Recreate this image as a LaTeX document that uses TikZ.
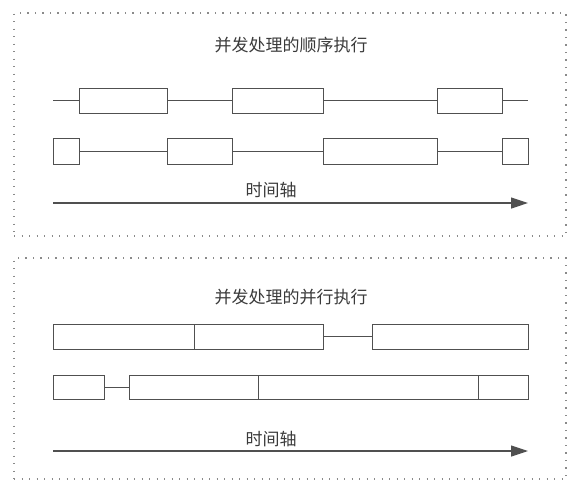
\documentclass[tikz,border=0pt]{standalone}
\usepackage{fontspec}
\newfontfamily\cjk{Noto Sans CJK SC}
\usetikzlibrary{arrows.meta}
\definecolor{linec}{HTML}{505050}
\definecolor{framec}{HTML}{8A8A8A}
\definecolor{textc}{HTML}{3A3A3A}
\tikzset{
  box/.style={draw=linec, line width=0.9pt, fill=white, inner sep=0pt, outer sep=0pt, minimum height=#1},
  conn/.style={draw=linec, line width=0.9pt},
  frame/.style={draw=framec, line width=1.1pt, dash pattern=on 1.2pt off 6.3pt},
  title/.style={font=\cjk\fontsize{17}{17}\selectfont, text=textc, inner sep=0pt},
  axis/.style={draw=linec, line width=1.2pt, -{Triangle[length=17pt,width=11pt]}}
}
\begin{document}
\begin{tikzpicture}[x=1pt,y=-1pt]
\useasboundingbox (0,0) rectangle (585,491);
% frames
\node[frame, inner sep=0pt, minimum width=552pt, minimum height=223pt] (f1) at (290,124.5) {};
\node[frame, inner sep=0pt, minimum width=552pt, minimum height=221pt] (f2) at (290,368.5) {};
% titles
\node[title] (t1) at (291,45) {并发处理的顺序执行};
\node[title] (t2) at (291,297) {并发处理的并行执行};
% top frame row 1
\coordinate (r1s) at (53,100.5);
\coordinate (r1e) at (528,100.5);
\node[box=25pt, minimum width=88pt] (b11) at (123,100.5) {};
\node[box=25pt, minimum width=91pt] (b12) at (277.5,100.5) {};
\node[box=25pt, minimum width=65pt] (b13) at (469.5,100.5) {};
\draw[conn] (r1s) -- (b11.west);
\draw[conn] (b11.east) -- (b12.west);
\draw[conn] (b12.east) -- (b13.west);
\draw[conn] (b13.east) -- (r1e);
% top frame row 2
\node[box=26pt, minimum width=26pt] (b21) at (66,151) {};
\node[box=26pt, minimum width=65pt] (b22) at (199.5,151) {};
\node[box=26pt, minimum width=114pt] (b23) at (380,151) {};
\node[box=26pt, minimum width=26pt] (b24) at (515,151) {};
\draw[conn] (b21.east) -- (b22.west);
\draw[conn] (b22.east) -- (b23.west);
\draw[conn] (b23.east) -- (b24.west);
% top axis
\coordinate (a1s) at (53,203);
\coordinate (a1e) at (528,203);
\draw[axis] (a1s) -- (a1e);
\node[title] (l1) at (271,190) {时间轴};
% bottom frame row 1
\node[box=25pt, minimum width=141pt] (c11) at (123.5,336.5) {};
\node[box=25pt, minimum width=129pt] (c12) at (258.5,336.5) {};
\node[box=25pt, minimum width=156pt] (c13) at (450,336.5) {};
\draw[conn] (c12.east) -- (c13.west);
% bottom frame row 2
\node[box=24pt, minimum width=51pt] (c21) at (78.5,387) {};
\node[box=24pt, minimum width=129pt] (c22) at (193.5,387) {};
\node[box=24pt, minimum width=220pt] (c23) at (368,387) {};
\node[box=24pt, minimum width=50pt] (c24) at (503,387) {};
\draw[conn] (c21.east) -- (c22.west);
% bottom axis
\coordinate (a2s) at (53,451);
\coordinate (a2e) at (528,451);
\draw[axis] (a2s) -- (a2e);
\node[title] (l2) at (271,439) {时间轴};
\end{tikzpicture}
\end{document}
